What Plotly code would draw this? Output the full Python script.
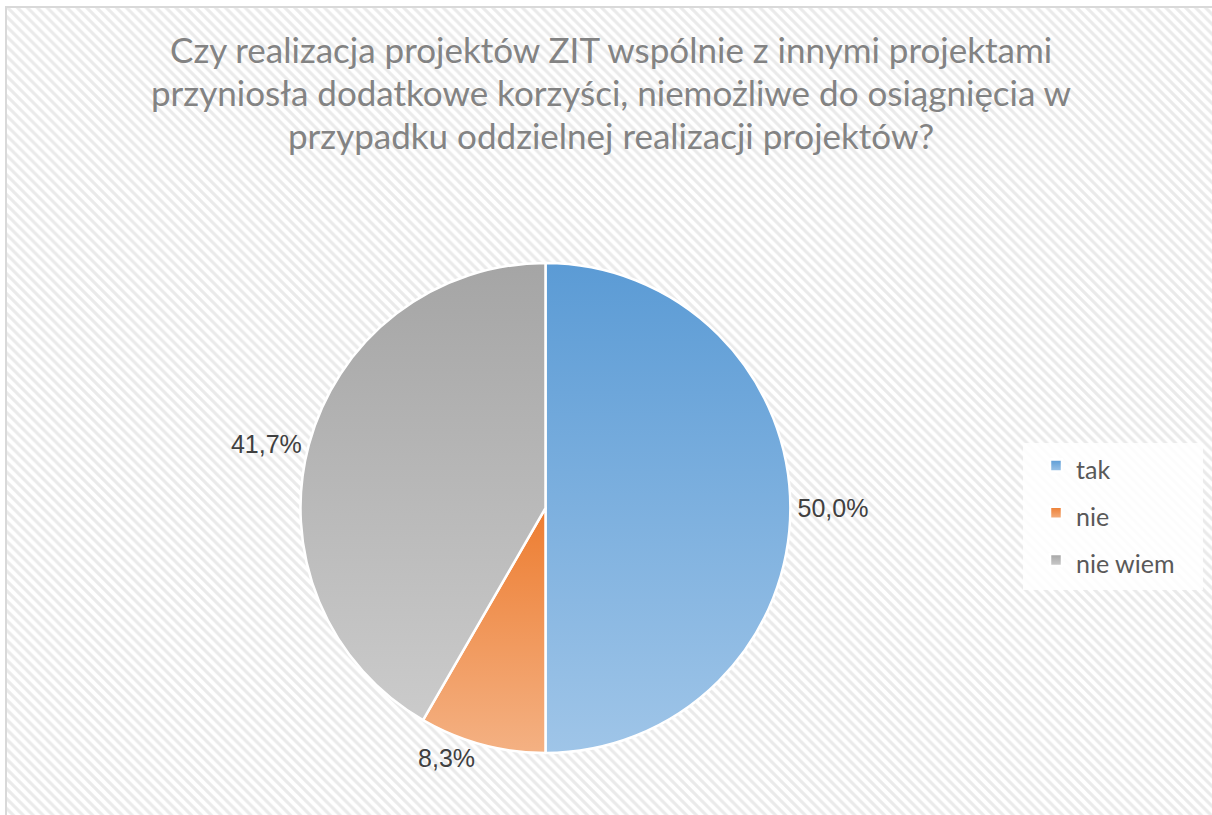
import json
import plotly.graph_objects as go

# dane z wykresu (12 odpowiedzi)
categories = ['tak', 'nie', 'nie wiem']
counts = [6, 1, 5]

# kolory gradientu: góra -> dół
colors_top = ['#5b9bd5', '#ed7d31', '#a5a5a5']
colors_bottom = ['#9fc5e8', '#f4b183', '#cbcbcb']

title_lines = ['Czy realizacja projektów ZIT wspólnie z innymi projektami',
               'przyniosła dodatkowe korzyści, niemożliwe do osiągnięcia w',
               'przypadku oddzielnej realizacji projektów?']

W, H = 1212, 815

# obszar wykresu (ramka zaczyna się kilka px od lewej i od góry)
bx0 = 6 / W
by1 = 1 - 7 / H

fig = go.Figure()

# tło w ukośne paski jak w Excelu
fig.add_trace(go.Scatter(
    x=[bx0, 1.02, 1.02, bx0, bx0],
    y=[-0.02, -0.02, by1, by1, -0.02],
    mode='lines',
    fill='toself',
    fillcolor='white',
    fillpattern=dict(shape='\\', size=7, solidity=0.45,
                     fgcolor='#d6d6d6', bgcolor='white'),
    line=dict(color='#d9d9d9', width=2),
    hoverinfo='skip',
    showlegend=False,
))

legend_labels = ['<span style="font-size:25px">%s</span>' % c for c in categories]

fig.add_trace(go.Pie(
    labels=legend_labels,
    values=counts,
    sort=False,
    direction='clockwise',
    rotation=0,
    marker=dict(colors=colors_top, line=dict(color='white', width=2.5)),
    textinfo='percent',
    texttemplate='%{percent:.1%}',
    textposition='outside',
    outsidetextfont=dict(family='Liberation Sans, Arial', size=25, color='#404040'),
    hoverinfo='skip',
    domain=dict(x=[300 / W, 791 / W], y=[1 - 753 / H, 1 - 263 / H]),
))

# tytuł: trzy linie osobno, żeby trzymać odstępy jak w oryginale
title_y = [49, 92, 135]
annotations = [dict(
    text=t,
    x=611 / W, y=1 - yy / H,
    xref='paper', yref='paper',
    xanchor='center', yanchor='middle',
    showarrow=False,
    font=dict(family='Lato', size=35, color='#838383'),
) for t, yy in zip(title_lines, title_y)]

fig.update_layout(
    width=W, height=H,
    margin=dict(l=0, r=0, t=0, b=0),
    paper_bgcolor='white',
    plot_bgcolor='rgba(0,0,0,0)',
    separators=', ',
    xaxis=dict(range=[0, 1], domain=[0, 1], visible=False, fixedrange=True),
    yaxis=dict(range=[0, 1], domain=[0, 1], visible=False, fixedrange=True),
    showlegend=True,
    legend=dict(
        x=1036 / W, y=1 - 437 / H,
        xanchor='left', yanchor='top',
        bgcolor='rgba(0,0,0,0)',
        font=dict(family='Lato', size=34, color='#595959'),
    ),
    annotations=annotations,
    shapes=[dict(
        type='rect', xref='paper', yref='paper',
        x0=1023 / W, x1=1203 / W, y0=1 - 590 / H, y1=1 - 443 / H,
        fillcolor='rgba(255,255,255,0.85)', line=dict(width=0),
        layer='above',
    )],
)

grads = json.dumps([[c1, c2] for c1, c2 in zip(colors_top, colors_bottom)])

# gradienty wycinków (Plotly nie ma ich w pie, więc dokładamy defs w SVG)
post_js = """
document.body.style.margin = '0';
document.body.style.overflow = 'hidden';
var gd = document.getElementById('{plot_id}');
var grads = %s;
function applyGrad() {
  var svg = gd.querySelector('.main-svg');
  var ns = 'http://www.w3.org/2000/svg';
  var defs = svg.querySelector('defs');
  grads.forEach(function (g, i) {
    var id = 'slicegrad' + i;
    if (svg.querySelector('#' + id)) return;
    var lg = document.createElementNS(ns, 'linearGradient');
    lg.setAttribute('id', id);
    lg.setAttribute('x1', '0'); lg.setAttribute('y1', '0');
    lg.setAttribute('x2', '0'); lg.setAttribute('y2', '1');
    [[0, g[0]], [1, g[1]]].forEach(function (s) {
      var st = document.createElementNS(ns, 'stop');
      st.setAttribute('offset', s[0]);
      st.setAttribute('stop-color', s[1]);
      lg.appendChild(st);
    });
    defs.appendChild(lg);
  });
  gd.querySelectorAll('g.slice path.surface').forEach(function (p, i) {
    p.style.fill = 'url(#slicegrad' + i + ')';
  });
  gd.querySelectorAll('.legend .legendpoints path').forEach(function (p, i) {
    p.style.fill = 'url(#slicegrad' + i + ')';
  });
}
applyGrad();
gd.on('plotly_afterplot', applyGrad);
""" % grads

fig.write_html("out.html", post_script=post_js, config=dict(displayModeBar=False))
